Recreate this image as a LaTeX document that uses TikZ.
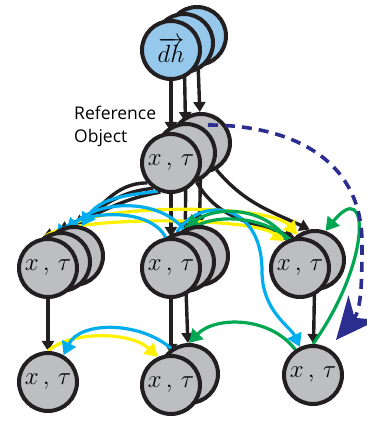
\documentclass[tikz,border=0pt]{standalone}
\usepackage{fontspec}
\newfontfamily\labelfont{Open Sans}
\usetikzlibrary{arrows.meta,backgrounds}

\definecolor{obsblue}{RGB}{150,200,236}
\definecolor{hidgrey}{RGB}{189,190,192}
\definecolor{linegrey}{RGB}{35,31,32}
\definecolor{cyanarr}{RGB}{0,174,239}
\definecolor{yelarr}{RGB}{255,241,0}
\definecolor{grnarr}{RGB}{0,166,81}
\definecolor{navyarr}{RGB}{44,46,143}

\tikzset{
	var/.style={circle, draw=linegrey, line width=4pt, fill=hidgrey, minimum size=58pt, inner sep=0pt, font=\Huge},
	obs/.style={var, fill=obsblue},
	blk/.style={draw=linegrey, line width=3.4pt, -{Triangle[width=12pt,length=10pt]}},
	flow/.style={line width=3.2pt, -{Triangle[width=15pt,length=13pt]}},
	cyanflow/.style={flow, draw=cyanarr},
	yelflow/.style={flow, draw=yelarr},
	grnflow/.style={flow, draw=grnarr},
	navyflow/.style={draw=navyarr, line width=3.6pt, dash pattern=on 10pt off 7pt, -{Stealth[width=38pt,length=42pt,inset=13pt]}}
}

\begin{document}
\begin{tikzpicture}[x=1pt,y=1pt]
\useasboundingbox (0,0) rectangle (367,421);

% observed dh stack
\node[obs] (dhC) at (197,385) {};
\node[obs] (dhB) at (184,378) {};
\node[obs] (dh) at (171,371) {$\overrightarrow{dh}$};

% reference object stack
\node[var] (refC) at (201,278) {};
\node[var] (refB) at (186,268) {};
\node[var] (ref) at (171,258) {$x\,,\,\tau$};
\node[anchor=north west, inner sep=0pt, align=left, font=\labelfont\fontsize{17.5}{23}\selectfont] (reflbl) at (74,315) {Reference\\Object};

% second row
\node[var] (laC) at (74,165) {};
\node[var] (laB) at (61,159) {};
\node[var] (la) at (48,153) {$x\,,\,\tau$};
\node[var] (maC) at (199,165) {};
\node[var] (maB) at (185,159) {};
\node[var] (ma) at (171,153) {$x\,,\,\tau$};
\node[var] (raB) at (315,161) {};
\node[var] (ra) at (300,153) {$x\,,\,\tau$};

% third row
\node[var] (lb) at (48,39) {$x\,,\,\tau$};
\node[var] (mbB) at (189,47) {};
\node[var] (mb) at (171,36) {$x\,,\,\tau$};
\node[var] (rb) at (313,46) {$x\,,\,\tau$};

\begin{scope}[on background layer]
% black links
\foreach \a/\b in {dh/ref,dhB/refB,dhC/refC,ref/ma,refB/maB,refC/maC,la/lb,ma/mb,maB/mbB,raB/rb}
	\draw[blk] (\a) -- (\b);
\draw[blk] (ref.250) to[out=190,in=20] (la.100);
\draw[blk] (ref.235) to[out=185,in=25] (laB.95);
\draw[blk] (ref.220) to[out=180,in=30] (laC.90);
\draw[blk] (refB.290) to[out=-60,in=160] (ra.100);
\draw[blk] (refC.300) to[out=-50,in=155] (raB.100);

% yellow
\draw[yelflow] (la.95) .. controls (60,205) and (250,205) .. (ra.120);
\draw[yelflow] (laB.85) .. controls (80,218) and (270,218) .. (raB.125);
\draw[yelflow] (lb.north) .. controls (70,90) and (130,90) .. (mb.115);

% cyan
\draw[cyanflow] (ma.100) .. controls (150,215) and (80,210) .. (la.75);
\draw[cyanflow] (maC.120) .. controls (160,222) and (100,222) .. (laB.80);
\draw[cyanflow] (ref.245) .. controls (130,226) and (100,224) .. (laC.75);
\draw[cyanflow] (maB.105) .. controls (200,225) and (262,220) .. (262,150) .. controls (262,110) and (290,95) .. (rb.115);
\draw[cyanflow] (mbB.125) .. controls (140,100) and (80,100) .. (lb.60);

% green
\draw[grnflow] (ra.115) .. controls (265,215) and (215,215) .. (maC.115);
\draw[grnflow] (raB.140) .. controls (255,210) and (205,205) .. (ma.70);
\draw[grnflow] (rb.north) .. controls (372,160) and (370,245) .. (raB.70);
\draw[grnflow] (rb.125) .. controls (270,105) and (215,105) .. (mbB.north);
\end{scope}

% dashed loop
\coordinate (dstart) at (208,296);
\draw[navyflow] (dstart) to[out=0,in=90,looseness=1.1] (362,178) to[out=-90,in=50] (336,81);
\end{tikzpicture}
\end{document}
